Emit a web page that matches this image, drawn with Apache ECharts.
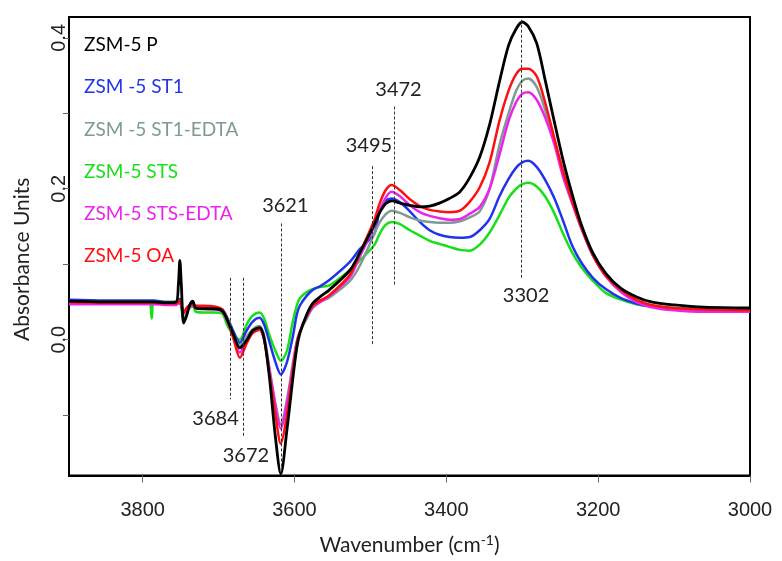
<!DOCTYPE html>
<html><head><meta charset="utf-8">
<script src="https://cdn.jsdelivr.net/npm/echarts@6/dist/echarts.min.js"></script>
<style>html,body{margin:0;padding:0;background:#fff}#c{width:782px;height:561px}</style>
</head><body><div id="c"></div>
<script>
// Wavenumber grid (cm-1)
const wavenumbers = [3897,3850,3800,3791,3788,3785,3770,3756,3753,3751,3749,3746,3742,3738,3734,3730,3720,3705,3695,3688,3680,3672,3663,3655,3646,3640,3633,3625,3618,3610,3602,3597,3593,3584,3576,3566,3554,3527,3514,3495,3488,3480,3472,3461,3448,3435,3422,3409,3396,3382,3369,3356,3343,3330,3318,3308,3300,3292,3281,3270,3258,3246,3234,3222,3207,3190,3170,3150,3130,3100,3060,3000];

const absP = [0.051,0.050,0.050,0.050,0.050,0.050,0.049,0.050,0.072,0.105,
  0.072,0.022,0.032,0.046,0.051,0.042,0.041,0.041,0.038,0.025,
  0.006,-0.011,-0.001,0.012,0.016,0.002,-0.050,-0.130,-0.178,-0.120,
  -0.050,-0.011,0.008,0.033,0.048,0.057,0.066,0.092,0.115,0.152,
  0.168,0.180,0.184,0.181,0.178,0.176,0.177,0.181,0.187,0.196,
  0.215,0.242,0.285,0.342,0.390,0.412,0.421,0.415,0.393,0.345,
  0.290,0.237,0.192,0.152,0.115,0.088,0.068,0.057,0.050,0.046,
  0.043,0.042];
const absST1 = [0.053,0.052,0.052,0.052,0.052,0.052,0.050,0.050,0.052,0.054,
  0.047,0.036,0.042,0.046,0.047,0.044,0.043,0.042,0.040,0.028,
  0.010,-0.004,0.012,0.024,0.029,0.020,-0.003,-0.030,-0.046,-0.030,
  0.005,0.033,0.045,0.058,0.066,0.071,0.079,0.103,0.120,0.140,
  0.170,0.184,0.187,0.182,0.170,0.156,0.145,0.139,0.136,0.135,
  0.136,0.145,0.160,0.190,0.213,0.228,0.235,0.237,0.229,0.212,
  0.188,0.157,0.124,0.102,0.082,0.067,0.055,0.048,0.044,0.041,
  0.040,0.039];
const absST1EDTA = [0.050,0.050,0.050,0.050,0.050,0.050,0.049,0.049,0.050,0.052,
  0.046,0.036,0.042,0.045,0.046,0.043,0.042,0.041,0.038,0.026,
  0.006,-0.008,0.004,0.014,0.018,0.005,-0.038,-0.085,-0.112,-0.080,
  -0.030,-0.002,0.010,0.028,0.042,0.050,0.056,0.078,0.098,0.140,
  0.155,0.166,0.171,0.168,0.162,0.158,0.156,0.155,0.155,0.157,
  0.162,0.170,0.200,0.258,0.300,0.330,0.343,0.346,0.335,0.305,
  0.265,0.220,0.182,0.148,0.112,0.085,0.064,0.051,0.045,0.041,
  0.039,0.038];
const absSTS = [0.052,0.051,0.051,0.050,0.028,0.050,0.050,0.050,0.052,0.054,
  0.042,0.026,0.035,0.042,0.044,0.037,0.036,0.036,0.034,0.018,
  0.006,0.000,0.020,0.032,0.036,0.028,0.006,-0.015,-0.028,-0.015,
  0.025,0.045,0.055,0.063,0.067,0.070,0.072,0.092,0.105,0.125,
  0.140,0.152,0.156,0.153,0.145,0.138,0.131,0.127,0.123,0.119,
  0.118,0.126,0.142,0.165,0.188,0.200,0.206,0.208,0.203,0.190,
  0.168,0.140,0.115,0.096,0.078,0.062,0.053,0.047,0.044,0.042,
  0.041,0.040];
const absSTSEDTA = [0.047,0.047,0.047,0.047,0.047,0.047,0.046,0.046,0.048,0.050,
  0.044,0.034,0.040,0.044,0.045,0.042,0.041,0.040,0.037,0.024,
  0.002,-0.017,-0.002,0.009,0.013,0.000,-0.040,-0.088,-0.118,-0.085,
  -0.035,-0.004,0.010,0.030,0.043,0.050,0.058,0.083,0.110,0.150,
  0.170,0.188,0.196,0.190,0.178,0.169,0.164,0.161,0.159,0.160,
  0.167,0.176,0.200,0.245,0.290,0.315,0.326,0.328,0.318,0.295,
  0.260,0.215,0.180,0.147,0.112,0.084,0.063,0.050,0.043,0.039,
  0.037,0.037];
const absOA = [0.050,0.049,0.049,0.049,0.049,0.049,0.048,0.048,0.050,0.052,
  0.045,0.036,0.042,0.046,0.047,0.045,0.045,0.044,0.040,0.025,
  0.000,-0.024,-0.005,0.009,0.013,0.000,-0.045,-0.100,-0.138,-0.100,
  -0.040,-0.006,0.010,0.032,0.045,0.052,0.059,0.086,0.115,0.158,
  0.180,0.198,0.205,0.198,0.186,0.177,0.172,0.170,0.169,0.171,
  0.183,0.202,0.235,0.290,0.330,0.352,0.359,0.359,0.349,0.315,
  0.268,0.222,0.183,0.148,0.112,0.085,0.066,0.053,0.046,0.042,
  0.040,0.039];

const seriesNames = ['ZSM-5 P','ZSM -5 ST1','ZSM -5 ST1-EDTA','ZSM-5 STS','ZSM-5 STS-EDTA','ZSM-5 OA'];
const seriesValues = [absP, absST1, absST1EDTA, absSTS, absSTSEDTA, absOA];
const seriesColors = ['#000000','#2233ee','#7f9a94','#18e018','#ee22ee','#ff1010'];
const drawOrder = [3,1,2,4,5,0];

const xTicks = [3000,3200,3400,3600,3800];
const yTicks = [-0.1,0,0.1,0.2,0.3,0.4];
const yTickLabels = [0,0.2,0.4];

// band annotations
const markerLabels = ['3684','3672','3621','3495','3472','3302'];
const markerLineX = [3685,3668,3618,3498,3469,3301];
const markerLineTop = [0.082,0.082,0.154,0.230,0.309,0.424];
const markerLineBottom = [-0.079,-0.129,-0.180,-0.008,0.072,0.082];
const markerLabelX = [3704,3664,3612,3502,3463,3295];
const markerLabelY = [-0.105,-0.154,0.178,0.257,0.332,0.058];

const chart = echarts.init(document.getElementById('c'), null, {renderer:'canvas'});

const series = drawOrder.map(function(i){
  const s = {
    name: seriesNames[i], type:'line', symbol:'none', smooth:0.3,
    data: wavenumbers.map(function(w,k){ return [w, seriesValues[i][k]]; }),
    lineStyle:{color:seriesColors[i], width:i===0?2.8:2.5},
    itemStyle:{color:seriesColors[i]},
    z: 2, animation:false
  };
  if (i === 0) {
    s.markLine = {
      silent:true, symbol:['none','none'], animation:false,
      label:{show:false},
      lineStyle:{color:'#333', width:1, type:[3,2]},
      data: markerLineX.map(function(x,k){ return [{coord:[x, markerLineTop[k]]},{coord:[x, markerLineBottom[k]]}]; })
    };
    s.markPoint = {
      silent:true, animation:false, symbol:'circle', symbolSize:1,
      itemStyle:{color:'rgba(0,0,0,0)'},
      label:{show:true, position:'inside', formatter:'{b}', fontFamily:'Lato', fontSize:20, color:'#222'},
      data: markerLabels.map(function(t,k){ return {name:t, coord:[markerLabelX[k], markerLabelY[k]]}; })
    };
  }
  return s;
});

chart.setOption({
  animation:false,
  backgroundColor:'#fff',
  grid:{left:69, top:17, right:32, bottom:82, show:true, borderColor:'#000', borderWidth:2, backgroundColor:'transparent'},
  legend:{
    orient:'vertical', left:74, top:30, icon:'none', itemWidth:0, itemHeight:20, itemGap:22.7,
    selectedMode:false,
    textStyle:{fontFamily:'Lato', fontSize:19},
    data: seriesNames.map(function(n,i){ return {name:n, textStyle:{color:seriesColors[i]}}; })
  },
  xAxis:{
    type:'value', inverse:true, min:3000, max:3897,
    axisLine:{show:true, onZero:false, lineStyle:{color:'#000', width:2}},
    splitLine:{show:false},
    axisTick:{show:true, length:7, customValues:xTicks, lineStyle:{color:'#666', width:1}},
    axisLabel:{customValues:xTicks, fontFamily:'Liberation Sans', fontSize:20, color:'#222', margin:25,
      formatter:function(v){ return String(v); }},
    name:'Wavenumber (cm{sup|-1})', nameLocation:'middle', nameGap:58,
    nameTextStyle:{fontFamily:'Lato', fontSize:21, color:'#222',
      rich:{sup:{fontFamily:'Lato', fontSize:14, color:'#222', verticalAlign:'top', padding:[0,0,10,0]}}}
  },
  yAxis:{
    type:'value', min:-0.18, max:0.4276,
    axisLine:{show:true, onZero:false, lineStyle:{color:'#000', width:2}},
    splitLine:{show:false},
    axisTick:{show:true, length:6, customValues:yTicks, lineStyle:{color:'#666', width:1}},
    axisLabel:{customValues:yTickLabels, rotate:90, fontFamily:'Liberation Sans', fontSize:20, color:'#222', margin:0,
      formatter:function(v){ return v.toFixed(1); }},
    name:'Absorbance Units', nameLocation:'middle', nameGap:36,
    nameTextStyle:{fontFamily:'Lato', fontSize:21, color:'#222', padding:[0,26,0,0]}
  },
  series: series
});
</script>
</body></html>
